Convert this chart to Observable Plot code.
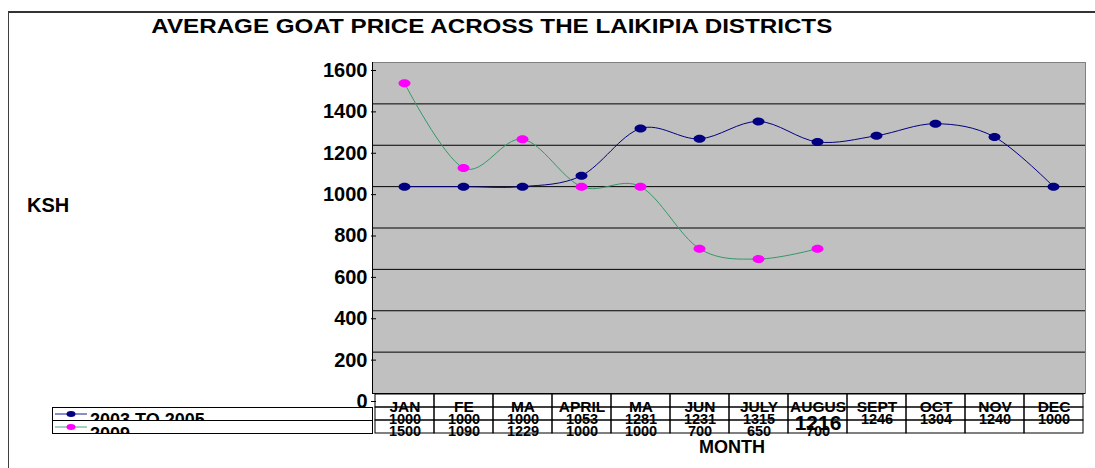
<!DOCTYPE html>
<html><head><meta charset="utf-8">
<script src="https://cdn.jsdelivr.net/npm/d3@7"></script>
<script src="https://cdn.jsdelivr.net/npm/@observablehq/plot@0.6"></script>
<style>
body{margin:0;background:#fff;font-family:"Liberation Sans",Arial,sans-serif;}
#wrap{position:relative;width:1095px;height:468px;overflow:hidden;background:#fff;}
.abs{position:absolute;}
.lbl{font-weight:bold;color:#000;white-space:nowrap;}
</style></head><body>
<div id="wrap">
  <div class="abs" style="left:8px;top:11px;width:1200px;height:600px;border-left:1.5px solid #404040;border-top:2px solid #333;"></div>
  <div class="abs" id="chart" style="left:0;top:0"></div>
  <div class="abs" id="table" style="left:0;top:393px"></div>
  <div id="legend"></div>
  <div class="abs lbl" id="title" style="left:0;top:15px;width:984px;text-align:center;font-size:21px;line-height:21px;"><span id="titletext" style="display:inline-block;transform-origin:center;">AVERAGE GOAT PRICE ACROSS THE LAIKIPIA DISTRICTS</span></div>
  <div class="abs lbl" style="left:27px;top:195px;font-size:20px;line-height:20px;">KSH</div>
  <div class="abs lbl" style="left:632px;width:200px;text-align:center;top:438px;font-size:18px;line-height:18px;">MONTH</div>
</div>
<script>
// ---- data ----
const monthKeys   = ["JAN","FEB","MAR","APR","MAY","JUN","JUL","AUG","SEP","OCT","NOV","DEC"];
const monthLabels = ["JAN","FE","MA","APRIL","MA","JUN","JULY","AUGUS","SEPT","OCT","NOV","DEC"];
const series2003to2005 = [1000,1000,1000,1053,1281,1231,1315,1216,1246,1304,1240,1000];
const series2009 = [1500,1090,1229,1000,1000,700,650,700];
const seriesNames = ["2003 TO 2005","2009"];
const yTicks = [0,200,400,600,800,1000,1200,1400,1600];

const navy = "#000080", magenta = "#FF00FF", green = "#339966";

const dataA = series2003to2005.map((v,i)=>({month:monthKeys[i], value:v}));
const dataB = series2009.map((v,i)=>({month:monthKeys[i], value:v}));

const ellipse = {draw(ctx){
  const rx=6, ry=4, k=0.5523;
  ctx.moveTo(rx,0);
  ctx.bezierCurveTo(rx, ry*k, rx*k, ry, 0, ry);
  ctx.bezierCurveTo(-rx*k, ry, -rx, ry*k, -rx, 0);
  ctx.bezierCurveTo(-rx, -ry*k, -rx*k, -ry, 0, -ry);
  ctx.bezierCurveTo(rx*k, -ry, rx, -ry*k, rx, 0);
  ctx.closePath();
}};

const W = 1095, ML = 372, MR = 10;

const chart = Plot.plot({
  width: W, height: 468,
  marginLeft: ML, marginRight: MR, marginTop: 62, marginBottom: 75,
  style: {fontFamily: "Liberation Sans, Arial, sans-serif", background: "transparent", color: "#000"},
  x: {type: "point", domain: monthKeys, padding: 0.5, axis: null},
  y: {domain: [0,1600], axis: null},
  marks: [
    Plot.frame({fill: "#C0C0C0", stroke: "#808080"}),
    Plot.ruleY(yTicks.filter(v => v > 0 && v < 1600), {stroke: "#000"}),
    Plot.ruleY([0], {stroke: "#000"}),
    Plot.frame({anchor: "left", stroke: "#000"}),
    Plot.axisY(yTicks, {tickSize: 5, tickFormat: d => String(d), fontSize: 20, fontWeight: "bold", dy: 8, dx: 4, label: null, stroke: "#000", fill: "#000"}),
    Plot.line(dataA, {x: "month", y: "value", stroke: navy, strokeWidth: 1, curve: "cardinal"}),
    Plot.dot(dataA, {x: "month", y: "value", fill: navy, symbol: ellipse}),
    Plot.line(dataB, {x: "month", y: "value", stroke: green, strokeWidth: 1, curve: "cardinal"}),
    Plot.dot(dataB, {x: "month", y: "value", fill: magenta, symbol: ellipse})
  ]
});
document.getElementById("chart").append(chart);

// ---- data table below the chart ----
const rows = ["cat","a","b"];
const cells = [];
monthKeys.forEach(m => rows.forEach(r => cells.push({month: m, row: r})));
const catRow = monthKeys.map((m,i)=>({month:m, row:"cat", text:monthLabels[i]}));
const rowA = series2003to2005.map((v,i)=>({month:monthKeys[i], row:"a", text:String(v)}));
const rowB = series2009.map((v,i)=>({month:monthKeys[i], row:"b", text:String(v)}));

const table = Plot.plot({
  width: W, height: 40,
  marginLeft: ML, marginRight: MR, marginTop: 0, marginBottom: 0,
  style: {fontFamily: "Liberation Sans, Arial, sans-serif", background: "transparent", color: "#000", overflow: "visible"},
  x: {type: "band", domain: monthKeys, padding: 0, axis: null},
  y: {type: "band", domain: rows, padding: 0, axis: null},
  marks: [
    Plot.text(catRow, {x: "month", y: "row", text: "text", fontSize: 15.5, fontWeight: "bold", dy: 6.5, fill: "#000"}),
    Plot.text(rowA.filter(d => d.month !== "AUG"), {x: "month", y: "row", text: "text", fontSize: 14.5, fontWeight: "bold", dy: 5.4, fill: "#000"}),
    Plot.text(rowA.filter(d => d.month === "AUG"), {x: "month", y: "row", text: "text", fontSize: 21, fontWeight: "bold", dy: 9, fill: "#000"}),
    Plot.text(rowB, {x: "month", y: "row", text: "text", fontSize: 14.5, fontWeight: "bold", dy: 4, fill: "#000"}),
    Plot.cell(cells, {x: "month", y: "row", fill: "none", stroke: "#000", inset: 0})
  ]
});
document.getElementById("table").append(table);

// ---- legend cells (left part of the data table) ----
const legendSpecs = [
  {top: 407, line: navy, dot: navy, name: seriesNames[0], ty: 19},
  {top: 420, line: green, dot: magenta, name: seriesNames[1], ty: 20}
];
const lg = d3.select("#legend");
legendSpecs.forEach(s => {
  const svg = lg.append("svg").attr("class","abs").style("left","52px").style("top", s.top+"px")
    .attr("width", 321).attr("height", 14).style("overflow","hidden");
  svg.append("text").attr("x", 38).attr("y", s.ty).attr("font-size", 18).attr("font-weight","bold")
    .attr("font-family","Liberation Sans, Arial, sans-serif").attr("fill","#000").text(s.name);
  svg.append("rect").attr("x",0.5).attr("y",0.5).attr("width",320).attr("height",13).attr("fill","none").attr("stroke","#000");
  svg.append("line").attr("x1",3).attr("x2",35).attr("y1",7).attr("y2",7).attr("stroke", s.line).attr("stroke-width",1.2).attr("opacity",0.75);
  svg.append("ellipse").attr("cx",19).attr("cy",7).attr("rx",4.5).attr("ry",3).attr("fill", s.dot);
});

// stretch the title to the reference width
const tt = document.getElementById("titletext");
const w = tt.getBoundingClientRect().width;
tt.style.transform = `scaleX(${681 / w})`;
</script>
</body></html>
